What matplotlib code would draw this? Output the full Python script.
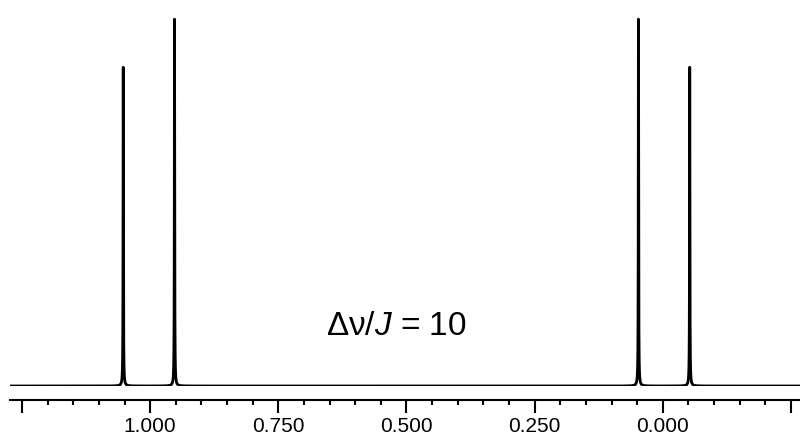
import numpy as np
import matplotlib.pyplot as plt

plt.rcParams['font.family'] = ['Liberation Sans', 'DejaVu Sans']
plt.rcParams['mathtext.fontset'] = 'custom'
plt.rcParams['mathtext.rm'] = 'Liberation Sans'
plt.rcParams['mathtext.it'] = 'Liberation Sans:italic'

# lineas del cuarteto AB (ppm) y alturas relativas
posiciones = [1.0525, 0.9525, 0.0475, -0.0525]
alturas = [0.869, 1.0, 1.0, 0.869]
ancho = 0.0004   # semiancho lorentziano (ppm)

ticks_mayores = [1.25, 1.0, 0.75, 0.5, 0.25, 0.0, -0.25]
etiquetas = ['', '1.000', '0.750', '0.500', '0.250', '0.000', '']

x = np.linspace(1.28, -0.27, 60000)
y = np.zeros_like(x)
for p, h in zip(posiciones, alturas):
    y += h * ancho**2 / ((x - p)**2 + ancho**2)

fig = plt.figure(figsize=(8, 4.37), dpi=100)
ax = fig.add_axes([10/800, 51/437, 790/800, 386/437])
ax.plot(x, y, color='black', lw=2)
ax.set_xlim(1.2734, -0.2676)
ax.set_ylim(0, 1.052)

for s in ['top', 'left', 'right']:
    ax.spines[s].set_visible(False)
ax.spines['bottom'].set_position(('outward', 10))
ax.spines['bottom'].set_linewidth(1.5)
ax.spines['bottom'].set_bounds(1.2734, -0.2676)
ax.set_yticks([])
ax.set_xticks(ticks_mayores)
ax.set_xticklabels(etiquetas)
ax.set_xticks(np.arange(-0.25, 1.2501, 0.05), minor=True)
ax.tick_params(axis='x', which='major', direction='out', length=9.5, width=1.5, labelsize=15, pad=3)
ax.tick_params(axis='x', which='minor', direction='out', length=3.8, width=1.5)

ax.text(0.52, 0.161, r'$\mathrm{\Delta\nu/}\mathit{J}$ = 10', fontsize=24, ha='center', va='center')

fig.savefig('out.png', dpi=100)
